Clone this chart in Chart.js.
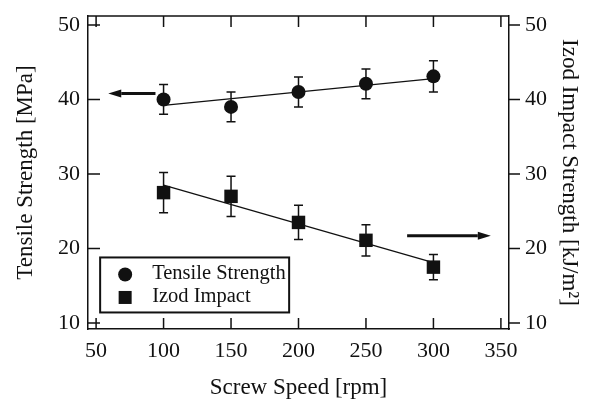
<!DOCTYPE html>
<html>
<head>
<meta charset="utf-8">
<script src="https://cdn.jsdelivr.net/npm/chart.js@4.4.1/dist/chart.umd.min.js"></script>
<style>
  html, body { margin: 0; padding: 0; background: #fff; }
  canvas { display: block; }
</style>
</head>
<body>
<canvas id="chart" width="592" height="399"></canvas>
<script>
const speeds = [100, 150, 200, 250, 300];
const tensile = [40, 39, 41, 42.1, 43.1];
const tensileErr = [2, 2, 2, 2, 2.1];
const izod = [27.5, 27, 23.5, 21.1, 17.5];
const izodErr = [2.7, 2.7, 2.3, 2.1, 1.7];

// trend lines (ends at 100 and 300 rpm)
const fitSpeeds = [100, 300];
const tensileFit = [39.2, 42.8];
const izodFit = [28.5, 18.1];

const xTicks = [50, 100, 150, 200, 250, 300, 350];
const yTicks = [10, 20, 30, 40, 50];

// arrows pointing at the axis each series belongs to: [from, to] in rpm, at a value
const tensileArrowX = [94, 59];
const tensileArrowY = 40.8;
const izodArrowX = [280.5, 342.5];
const izodArrowY = 21.7;

const ink = "#111";
const serif = "'Liberation Serif', 'Times New Roman', serif";

const toPoints = (xs, ys) => xs.map((x, i) => ({ x, y: ys[i] }));

const errorBars = {
    id: "errorBars",
    beforeDatasetsDraw(chart) {
        const { ctx } = chart;
        const x = chart.scales.x;
        const sets = [
            [tensile, tensileErr, chart.scales.y],
            [izod, izodErr, chart.scales.y1],
        ];
        ctx.save();
        ctx.strokeStyle = ink;
        ctx.lineWidth = 1.5;
        sets.forEach(([vals, errs, scale]) => {
            vals.forEach((v, i) => {
                const px = x.getPixelForValue(speeds[i]);
                const top = scale.getPixelForValue(v + errs[i]);
                const bot = scale.getPixelForValue(v - errs[i]);
                ctx.beginPath();
                ctx.moveTo(px, top);
                ctx.lineTo(px, bot);
                ctx.moveTo(px - 4.5, top);
                ctx.lineTo(px + 4.5, top);
                ctx.moveTo(px - 4.5, bot);
                ctx.lineTo(px + 4.5, bot);
                ctx.stroke();
            });
        });
        ctx.restore();
    },
};

function drawArrow(ctx, x1, x2, y) {
    const dir = Math.sign(x2 - x1);
    const head = 13;
    ctx.beginPath();
    ctx.moveTo(x1, y);
    ctx.lineTo(x2 - dir * head, y);
    ctx.lineWidth = 3;
    ctx.stroke();
    ctx.beginPath();
    ctx.moveTo(x2, y);
    ctx.lineTo(x2 - dir * head, y - 4);
    ctx.lineTo(x2 - dir * head, y + 4);
    ctx.closePath();
    ctx.fill();
}

const frame = {
    id: "frame",
    afterDraw(chart) {
        const { ctx, chartArea: a } = chart;
        const x = chart.scales.x;
        const y = chart.scales.y;
        const y1 = chart.scales.y1;
        ctx.save();
        ctx.strokeStyle = ink;
        ctx.fillStyle = ink;
        ctx.lineWidth = 1.5;

        // top border
        ctx.beginPath();
        ctx.moveTo(a.left, a.top);
        ctx.lineTo(a.right, a.top);
        ctx.stroke();

        // tick marks: x inside top & bottom, left inside, right outside
        ctx.beginPath();
        xTicks.forEach((t) => {
            const px = x.getPixelForValue(t);
            ctx.moveTo(px, a.bottom);
            ctx.lineTo(px, a.bottom - 11);
            ctx.moveTo(px, a.top);
            ctx.lineTo(px, a.top + 11);
        });
        yTicks.forEach((t) => {
            const py = y.getPixelForValue(t);
            ctx.moveTo(a.left, py);
            ctx.lineTo(a.left + 12, py);
            const pr = y1.getPixelForValue(t);
            ctx.moveTo(a.right, pr);
            ctx.lineTo(a.right + 11, pr);
        });
        ctx.stroke();

        // arrows
        drawArrow(ctx, x.getPixelForValue(tensileArrowX[0]), x.getPixelForValue(tensileArrowX[1]), y.getPixelForValue(tensileArrowY));
        drawArrow(ctx, x.getPixelForValue(izodArrowX[0]), x.getPixelForValue(izodArrowX[1]), y1.getPixelForValue(izodArrowY));

        // legend box
        const lx = x.getPixelForValue(53);
        const ly = y.getPixelForValue(18.8);
        const lw = 189;
        const lh = 55;
        ctx.lineWidth = 2;
        ctx.strokeRect(lx, ly, lw, lh);
        ctx.beginPath();
        ctx.arc(lx + 25, ly + 17, 7, 0, Math.PI * 2);
        ctx.fill();
        ctx.fillRect(lx + 25 - 6.5, ly + 40 - 6.5, 13, 13);
        ctx.font = "20.5px " + serif;
        ctx.textBaseline = "middle";
        ctx.textAlign = "left";
        ctx.fillText(chart.data.datasets[0].label, lx + 52, ly + 16);
        ctx.fillText(chart.data.datasets[1].label, lx + 52, ly + 39);
        ctx.restore();
    },
};

const tickFont = { family: serif, size: 22 };
const titleFont = { family: serif, size: 23, lineHeight: 1 };

function fixVertical(width) {
    return (scale) => {
        scale.width = width;
        scale.paddingTop = 0;
        scale.paddingBottom = 0;
    };
}

new Chart(document.getElementById("chart"), {
    type: "scatter",
    data: {
        datasets: [
            {
                label: "Tensile Strength",
                data: toPoints(speeds, tensile),
                yAxisID: "y",
                pointStyle: "circle",
                pointRadius: 7,
                backgroundColor: ink,
                borderColor: ink,
                borderWidth: 0,
                order: 1,
            },
            {
                label: "Izod Impact",
                data: toPoints(speeds, izod),
                yAxisID: "y1",
                pointStyle: "rect",
                pointRadius: 9.5,
                backgroundColor: ink,
                borderColor: ink,
                borderWidth: 0,
                order: 1,
            },
            {
                label: "tensile fit",
                type: "line",
                data: toPoints(fitSpeeds, tensileFit),
                yAxisID: "y",
                borderColor: ink,
                borderWidth: 1.3,
                pointRadius: 0,
                order: 2,
            },
            {
                label: "izod fit",
                type: "line",
                data: toPoints(fitSpeeds, izodFit),
                yAxisID: "y1",
                borderColor: ink,
                borderWidth: 1.3,
                pointRadius: 0,
                order: 2,
            },
        ],
    },
    options: {
        responsive: false,
        animation: false,
        layout: { padding: { top: 16 } },
        plugins: { legend: { display: false }, tooltip: { enabled: false } },
        scales: {
            x: {
                type: "linear",
                min: 44,
                max: 356,
                afterBuildTicks(scale) {
                    scale.ticks = xTicks.map((value) => ({ value }));
                },
                afterFit(scale) {
                    scale.height = 70;
                },
                grid: { drawOnChartArea: false, drawTicks: false },
                border: { color: ink, width: 1.5 },
                ticks: { color: ink, font: tickFont, padding: 9, maxRotation: 0 },
                title: { display: true, text: "Screw Speed [rpm]", color: ink, font: titleFont, padding: 0 },
            },
            y: {
                position: "left",
                min: 9.2,
                max: 51.2,
                afterBuildTicks(scale) {
                    scale.ticks = yTicks.map((value) => ({ value }));
                },
                afterFit: fixVertical(88),
                grid: { drawOnChartArea: false, drawTicks: false },
                border: { color: ink, width: 1.5 },
                ticks: { color: ink, font: tickFont, padding: 8 },
                title: { display: true, text: "Tensile Strength [MPa]", color: ink, font: titleFont, padding: { top: 14 } },
            },
            y1: {
                position: "right",
                min: 9.2,
                max: 51.2,
                afterBuildTicks(scale) {
                    scale.ticks = yTicks.map((value) => ({ value }));
                },
                afterFit: fixVertical(83),
                grid: { drawOnChartArea: false, drawTicks: false },
                border: { color: ink, width: 1.5 },
                ticks: { color: ink, font: tickFont, padding: 16 },
                title: { display: true, text: "Izod Impact Strength [kJ/m²]", color: ink, font: titleFont, padding: { top: 11 } },
            },
        },
    },
    plugins: [errorBars, frame],
});
</script>
</body>
</html>
